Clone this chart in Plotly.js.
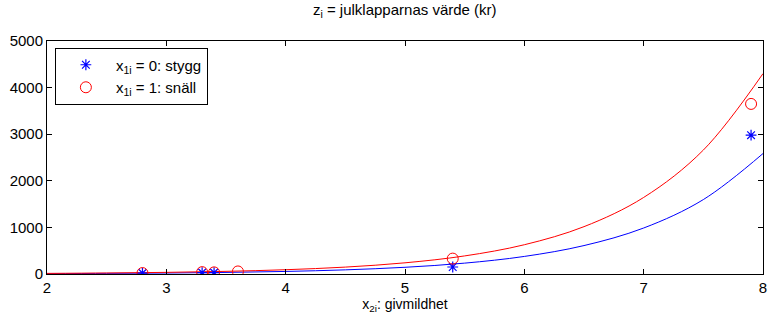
<!DOCTYPE html>
<html>
<head>
<meta charset="utf-8">
<script src="https://cdn.plot.ly/plotly-3.0.1.min.js"></script>
<style>html,body{margin:0;padding:0;background:#fff;}#chart{width:768px;height:321px;}</style>
</head>
<body>
<div id="chart"></div>
<script>
// Observed points
var starX = [2.8, 3.3, 3.4, 5.4, 7.9];
var starY = [20, 30, 30, 150, 2980];
var circX = [2.8, 3.3, 3.4, 3.6, 5.4, 7.9];
var circY = [20, 40, 35, 55, 330, 3650];
// Fitted curves
var curveX = [2, 2.5, 3, 3.5, 4, 4.5, 5, 5.5, 6, 6.5, 7, 7.5, 8];
var blueCurve = [8, 13, 21, 34, 55, 89, 144, 233, 377, 610, 987, 1597, 2585];
var redCurve = [13, 22, 35, 57, 92, 148, 240, 388, 628, 1016, 1643, 2659, 4300];
var xTicks = [2, 3, 4, 5, 6, 7, 8];
var yTicks = [0, 1000, 2000, 3000, 4000, 5000];

var font = {family: 'Liberation Sans, Arial, sans-serif', size: 15, color: '#000'};
var data = [
  {x: curveX, y: blueCurve, mode: 'lines', line: {color: '#0000ff', width: 1, shape: 'spline'}, showlegend: false, hoverinfo: 'skip'},
  {x: curveX, y: redCurve, mode: 'lines', line: {color: '#ff0000', width: 1, shape: 'spline'}, showlegend: false, hoverinfo: 'skip'},
  {x: starX, y: starY, mode: 'markers', name: 'x<sub>1i</sub> = 0: stygg',
   marker: {symbol: 'asterisk-open', size: 9, color: '#0000ff', line: {color: '#0000ff', width: 1.2}}},
  {x: circX, y: circY, mode: 'markers', name: 'x<sub>1i</sub> = 1: snäll',
   marker: {symbol: 'circle-open', size: 11, color: '#ff0000', line: {color: '#ff0000', width: 1}}}
];
var axisCommon = {
  showline: true, linecolor: '#000', linewidth: 1, mirror: 'ticks',
  ticks: 'inside', ticklen: 5, tickcolor: '#000', tickwidth: 1,
  showgrid: false, zeroline: false, tickfont: font
};
var layout = {
  width: 768, height: 321,
  margin: {l: 47, r: 5, t: 41, b: 47},
  paper_bgcolor: '#fff', plot_bgcolor: '#fff',
  font: font,
  title: {text: 'z<sub>i</sub> = julklapparnas värde (kr)', font: {family: font.family, size: 15, color: '#000'},
          x: 0.527, xanchor: 'center', y: 0.985, yanchor: 'top'},
  xaxis: Object.assign({}, axisCommon, {range: [2, 8], tickvals: xTicks, ticktext: xTicks.map(String),
          title: {text: 'x<sub>2i</sub>: givmildhet', font: {family: font.family, size: 14, color: '#000'}, standoff: 2}}),
  yaxis: Object.assign({}, axisCommon, {range: [0, 5000], tickvals: yTicks, ticktext: yTicks.map(String)}),
  legend: {x: 0.011, y: 0.972, xanchor: 'left', yanchor: 'top', bordercolor: '#000', borderwidth: 1,
           bgcolor: '#fff', font: font, itemwidth: 50, tracegroupgap: 0}
};
Plotly.newPlot('chart', data, layout, {displayModeBar: false, staticPlot: true});
</script>
</body>
</html>
